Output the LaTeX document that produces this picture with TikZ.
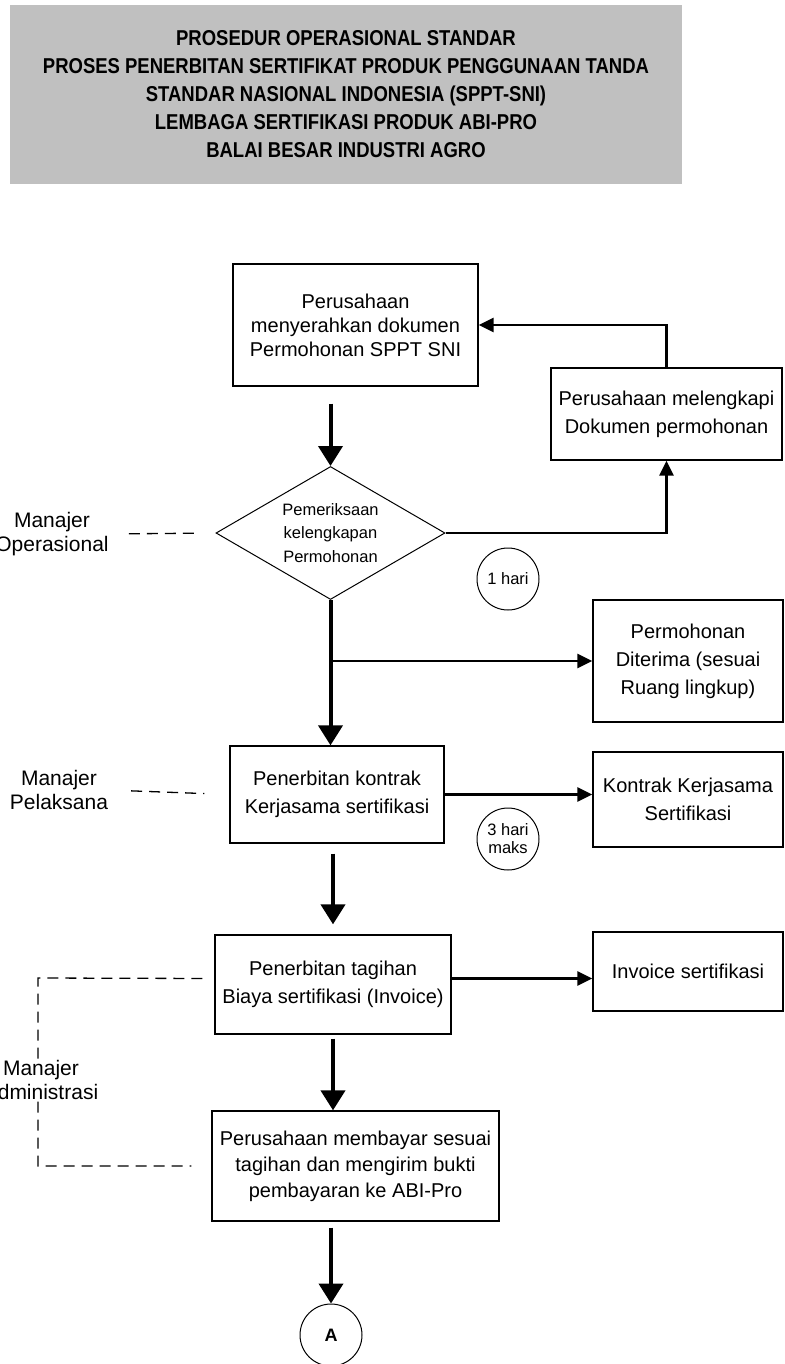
\documentclass[tikz,border=0pt]{standalone}
\usepackage{fontspec}
\setmainfont{Liberation Sans}
\newfontfamily\titlefont{Liberation Sans}[FakeStretch=0.86]
\usetikzlibrary{shapes.geometric,arrows.meta}
\definecolor{titlegray}{RGB}{192,192,192}

\begin{document}
\begin{tikzpicture}[x=1pt, y=-1pt,
    box/.style={draw, line width=1.3pt, rectangle, inner sep=0pt, align=center,
      font=\fontsize{20}{28}\selectfont},
    decision/.style={draw, line width=1pt, diamond, aspect=1.72, inner sep=0pt,
      align=center, font=\fontsize{16.5}{23.5}\selectfont},
    timer/.style={draw, line width=1pt, circle, minimum size=62pt, inner sep=0pt,
      align=center, font=\fontsize{16.5}{18}\selectfont},
    role/.style={align=center, inner sep=0pt, font=\fontsize{21}{24}\selectfont},
    bigarrow/.style={line width=4pt, -{Triangle[length=20pt,width=24pt]}},
    smallarrow/.style={line width=2.5pt, -{Triangle[length=15pt,width=14pt]}},
    dashline/.style={line width=1.3pt, dash pattern=on 11pt off 7pt}]
    \useasboundingbox (0,0) rectangle (784,1364);
    % First, locate each of the nodes and name them
    \node (title) at (346,94.5) [fill=titlegray, minimum width=672pt, minimum height=179pt,
      inner sep=0pt, align=center, font=\titlefont\bfseries\fontsize{21.5}{28}\selectfont]
      {PROSEDUR OPERASIONAL STANDAR\\
       PROSES PENERBITAN SERTIFIKAT PRODUK PENGGUNAAN TANDA\\
       STANDAR NASIONAL INDONESIA (SPPT-SNI)\\
       LEMBAGA SERTIFIKASI PRODUK ABI-PRO\\
       BALAI BESAR INDUSTRI AGRO};
    \node (mohon) at (355.5,325) [box, minimum width=245pt, minimum height=122pt,
      font=\fontsize{20}{24}\selectfont]
      {Perusahaan\\ menyerahkan dokumen\\ Permohonan SPPT SNI};
    \node (lengkapi) at (666.5,414) [box, minimum width=231pt, minimum height=92pt]
      {Perusahaan melengkapi\\ Dokumen permohonan};
    \node (periksa) at (330.5,533) [decision, minimum width=229pt, minimum height=133pt]
      {Pemeriksaan\\ kelengkapan\\ Permohonan};
    \node (hari1) at (508,579) [timer] {1 hari};
    \node (terima) at (688,661) [box, minimum width=190pt, minimum height=122pt]
      {Permohonan\\ Diterima (sesuai\\ Ruang lingkup)};
    \node (kontrak) at (337,794.5) [box, minimum width=214pt, minimum height=97pt]
      {Penerbitan kontrak\\ Kerjasama sertifikasi};
    \node (kerjasama) at (688,799.5) [box, minimum width=190pt, minimum height=95pt]
      {Kontrak Kerjasama\\ Sertifikasi};
    \node (hari3) at (508,839) [timer] {3 hari\\ maks};
    \node (tagihan) at (333,984.5) [box, minimum width=236pt, minimum height=99pt]
      {Penerbitan tagihan\\ Biaya sertifikasi (Invoice)};
    \node (invoice) at (688,971.5) [box, minimum width=190pt, minimum height=79pt]
      {Invoice sertifikasi};
    \node (bayar) at (355.5,1166) [box, minimum width=287pt, minimum height=110pt,
      font=\fontsize{20}{26}\selectfont]
      {Perusahaan membayar sesuai\\ tagihan dan mengirim bukti\\ pembayaran ke ABI-Pro};
    \node (conA) at (331,1335) [timer, font=\bfseries\fontsize{18}{18}\selectfont] {A};
    \node (opr) at (52,534) [role] {Manajer\\ Operasional};
    \node (pel) at (59,790) [role] {Manajer\\ Pelaksana};
    \coordinate (admtop) at (38,978);
    \coordinate (admbot) at (38,1166);
    % Now draw the lines
    \draw [bigarrow, shorten <=17pt] (periksa.north |- mohon.south) -- (periksa.north);
    \draw [smallarrow] (lengkapi.north) |- (mohon.east);
    \draw [smallarrow] (periksa.east) -| (lengkapi.south);
    \draw [bigarrow] (periksa.south) -- (periksa.south |- kontrak.north);
    \draw [smallarrow] (periksa.south |- terima.west) -- (terima.west);
    \draw [smallarrow] (kontrak.east) -- (kontrak.east -| kerjasama.west);
    \draw [bigarrow, shorten <=10pt, shorten >=10pt] (kontrak.south -| tagihan.north) -- (tagihan.north);
    \draw [smallarrow] ([yshift=6pt]tagihan.east) -- ([yshift=6pt]tagihan.east -| invoice.west);
    \draw [bigarrow, shorten <=4pt] (tagihan.south) -- (tagihan.south |- bayar.north);
    \draw [bigarrow, shorten <=6pt] (bayar.south -| conA.north) -- (conA.north);
    % dashed lines to the managers
    \draw [dashline, shorten <=20pt, shorten >=20pt] (opr.east) -- (periksa.west);
    \draw [dashline, shorten <=23pt, shorten >=25pt] (pel.east) -- (kontrak.west);
    \draw [dashline, shorten <=12pt, shorten >=20pt] ([yshift=6pt]tagihan.west) -- (admtop) -- (admbot) -- (bayar.west);
    \node (adm) at (41,1080) [role, fill=white] {Manajer\\ Administrasi};
\end{tikzpicture}
\end{document}
